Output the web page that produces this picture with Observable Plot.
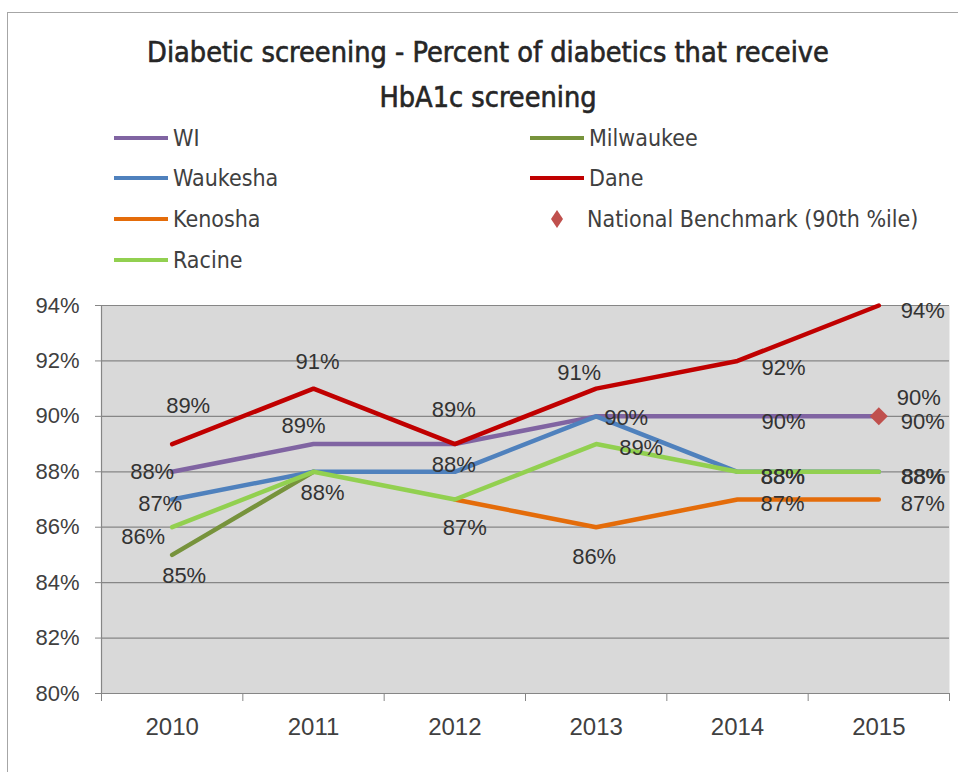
<!DOCTYPE html>
<html><head><meta charset="utf-8">
<script src="https://cdn.jsdelivr.net/npm/d3@7"></script>
<script src="https://cdn.jsdelivr.net/npm/@observablehq/plot@0.6"></script>
<style>
body{margin:0;background:#fff;width:958px;height:772px;overflow:hidden;position:relative;font-family:"Liberation Sans",Arial,sans-serif;}
#border{position:absolute;left:7px;top:12px;width:1000px;height:800px;border:1px solid #a6a6a6;}
#title{position:absolute;left:0;width:976px;top:30px;text-align:center;font-family:"Liberation Sans Narrow","DejaVu Sans Condensed",sans-serif;font-weight:normal;-webkit-text-stroke:0.6px #262626;font-size:28.6px;line-height:45px;color:#262626;}
.leg{position:absolute;height:30px;font-family:"Liberation Sans Narrow","DejaVu Sans Condensed",sans-serif;font-size:23px;color:#404040;white-space:nowrap;}
.sw{position:absolute;left:0;top:13px;width:54px;height:4px;}
.lt{position:absolute;left:59px;top:0;line-height:30px;}
#chart{position:absolute;left:0;top:280px;}
</style></head>
<body>
<div id="border"></div>
<div id="title">Diabetic screening - Percent of diabetics that receive<br>HbA1c screening</div>
<div id="legend"></div>
<div id="chart"></div>
<script>
const years = [2010, 2011, 2012, 2013, 2014, 2015];
const seriesNames = ["WI", "Milwaukee", "Waukesha", "Dane", "Kenosha", "National Benchmark (90th %ile)", "Racine"];
const wi        = [88, 89, 89, 90, 90, 90];
const milwaukee = [85, 88, null, null, null, null];
const waukesha  = [87, 88, 88, 90, 88, 88];
const dane      = [89, 91, 89, 91, 92, 94];
const kenosha   = [null, null, 87, 86, 87, 87];
const benchmark = [null, null, null, null, null, 90];
const racine    = [86, 88, 87, 89, 88, 88];
const yTicks = [80, 82, 84, 86, 88, 90, 92, 94];

// styling
const colors = ["#8064a2", "#77933c", "#4f81bd", "#c00000", "#e46c0a", "#c0504d", "#92d050"];
const seriesValues = [wi, milwaukee, waukesha, dane, kenosha, benchmark, racine];
// label offsets in px (center of text relative to point); null = hidden
const labelOffsets = [
  [[-20, 0], [-10, -18], null, [30, 2], [46, 6], [44, 6]],
  [[12, 21], null, null, null, null, null],
  [[-12, 4], null, [-1, -7], null, [45, 5], [44, 5]],
  [[16, -38], [4, -27], [-1, -34], [-17, -16], [46, 7], [44, 5]],
  [null, null, null, [-2, 30], [45, 4], [44, 4]],
  [null, null, null, null, null, [40, -18]],
  [[-29, 10], [9, 21], [10, 28], [45, 4], [45.6, 5.3], [44.6, 5.3]]
];

// legend
const legend = document.getElementById("legend");
seriesNames.forEach((name, i) => {
  const row = Math.floor(i / 2), col = i % 2;
  const d = document.createElement("div");
  d.className = "leg";
  d.style.left = (col ? 530 : 114) + "px";
  d.style.top = ([138, 178, 219, 260][row] - 15) + "px";
  if (name.startsWith("National")) {
    d.innerHTML = `<svg style="position:absolute;left:17px;top:5px" width="20" height="20"><polygon points="10,1 16,10 10,19 4,10" fill="${colors[i]}"/></svg><span class="lt" style="left:57px">${name}</span>`;
  } else {
    d.innerHTML = `<div class="sw" style="background:${colors[i]}"></div><span class="lt">${name}</span>`;
  }
  legend.appendChild(d);
});

const rows = [];
seriesValues.forEach((vals, i) => vals.forEach((v, j) => { if (v != null) rows.push({s: i, year: years[j], value: v}); }));
const boundaries = years.map(y => y - 0.5).concat([years[years.length - 1] + 0.5]);

const marks = [
  Plot.frame({fill: "#d9d9d9", stroke: null}),
  Plot.ruleY(yTicks, {stroke: "#868686", strokeWidth: 1.2}),
  Plot.ruleX([boundaries[0]], {stroke: "#868686", strokeWidth: 1.2}),
  Plot.axisY({ticks: yTicks, tickFormat: d => d + "%", tickSize: 6, tickPadding: 16, fontSize: 22, stroke: "#868686", fill: "#404040", label: null}),
  Plot.axisX({ticks: boundaries, tickSize: 8, tickFormat: () => "", stroke: "#868686", label: null}),
  Plot.axisX({ticks: years, tickSize: 0, tickPadding: 24, tickFormat: d => String(d), fontSize: 24, fill: "#404040", label: null})
];
seriesValues.forEach((vals, i) => {
  const data = rows.filter(r => r.s === i);
  if (seriesNames[i].startsWith("National")) {
    marks.push(Plot.dot(data, {x: "year", y: "value", symbol: "diamond2", r: 8.1, fill: colors[i], stroke: null}));
  } else {
    marks.push(Plot.line(data, {x: "year", y: "value", stroke: colors[i], strokeWidth: 4.5, strokeLinejoin: "round"}));
  }
});
seriesValues.forEach((vals, i) => {
  vals.forEach((v, j) => {
    const off = labelOffsets[i][j];
    if (v == null || !off) return;
    marks.push(Plot.text([{year: years[j], value: v}], {x: "year", y: "value", text: d => d.value + "%", dx: off[0], dy: off[1], fontSize: 22, fill: "#333333"}));
  });
});

const chart = Plot.plot({
  width: 958, height: 460,
  marginLeft: 101, marginRight: 9, marginTop: 25, marginBottom: 47,
  style: {fontFamily: "'Liberation Sans', Arial, sans-serif", background: "transparent", overflow: "visible"},
  x: {type: "linear", domain: [boundaries[0], boundaries[boundaries.length - 1]], axis: null, label: null},
  y: {domain: [80, 94], axis: null, label: null},
  marks
});
document.getElementById("chart").appendChild(chart);
</script>
</body></html>
